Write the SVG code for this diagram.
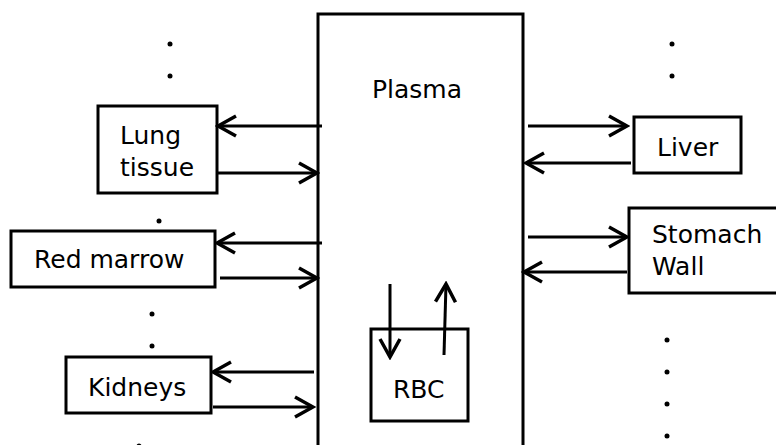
<svg xmlns="http://www.w3.org/2000/svg" width="776" height="445" viewBox="0 0 776 445">
<style>
.box{fill:#fff;stroke:#000;stroke-width:3}
.t{font-family:"DejaVu Sans",sans-serif;font-size:25px;fill:#000}
.ar{stroke:#000;stroke-width:3;fill:none;marker-end:url(#ah)}
.dot{fill:#000}
</style>
<defs>
<marker id="ah" viewBox="0 0 24 24" refX="21" refY="12" markerWidth="24" markerHeight="24" markerUnits="userSpaceOnUse" orient="auto">
<path d="M3,2 L21,12 L3,22" fill="none" stroke="#000" stroke-width="3.5" stroke-linejoin="miter"/>
</marker>
</defs>
<rect width="776" height="445" fill="#fff"/>
<g id="plasma">
<path class="box" d="M318,450 V14 H523 V450"/>
<text class="t" x="372" y="98">Plasma</text>
</g>
<g id="rbc">
<rect class="box" x="371" y="329" width="97" height="92"/>
<text class="t" x="393" y="398">RBC</text>
</g>
<g id="lung">
<rect class="box" x="98" y="106" width="119" height="87"/>
<text class="t" x="120" y="144">Lung</text>
<text class="t" x="120" y="176">tissue</text>
</g>
<g id="redmarrow">
<rect class="box" x="11" y="231" width="204" height="56"/>
<text class="t" x="34" y="268">Red marrow</text>
</g>
<g id="kidneys">
<rect class="box" x="66" y="357" width="145" height="56"/>
<text class="t" x="88" y="396">Kidneys</text>
</g>
<g id="liver">
<rect class="box" x="634" y="117" width="107" height="56"/>
<text class="t" x="657" y="156">Liver</text>
</g>
<g id="stomach">
<rect class="box" x="629" y="208" width="160" height="85"/>
<text class="t" x="652" y="243">Stomach</text>
<text class="t" x="652" y="275">Wall</text>
</g>
<g id="connectors">
<line class="ar" x1="322" y1="126" x2="218" y2="126"/>
<line class="ar" x1="218" y1="173" x2="317" y2="173"/>
<line class="ar" x1="322" y1="243" x2="217" y2="243"/>
<line class="ar" x1="220" y1="278" x2="317" y2="278"/>
<line class="ar" x1="314" y1="372" x2="213" y2="372"/>
<line class="ar" x1="213" y1="407" x2="313" y2="407"/>
<line class="ar" x1="528" y1="126" x2="627" y2="126"/>
<line class="ar" x1="631" y1="163" x2="526" y2="163"/>
<line class="ar" x1="528" y1="237" x2="627" y2="237"/>
<line class="ar" x1="627" y1="272" x2="524" y2="272"/>
<line class="ar" x1="390" y1="284" x2="390" y2="357"/>
<line class="ar" x1="444" y1="355" x2="446" y2="284"/>
</g>
<g id="dots">
<circle class="dot" cx="170" cy="44" r="2.5"/>
<circle class="dot" cx="170" cy="76" r="2.5"/>
<circle class="dot" cx="159" cy="221" r="2.5"/>
<circle class="dot" cx="152" cy="314" r="2.5"/>
<circle class="dot" cx="152" cy="346" r="2.5"/>
<circle class="dot" cx="139" cy="446" r="2.5"/>
<circle class="dot" cx="672" cy="44" r="2.5"/>
<circle class="dot" cx="672" cy="76" r="2.5"/>
<circle class="dot" cx="667" cy="340" r="2.5"/>
<circle class="dot" cx="667" cy="372" r="2.5"/>
<circle class="dot" cx="667" cy="404" r="2.5"/>
<circle class="dot" cx="667" cy="436" r="2.5"/>
</g>
</svg>
